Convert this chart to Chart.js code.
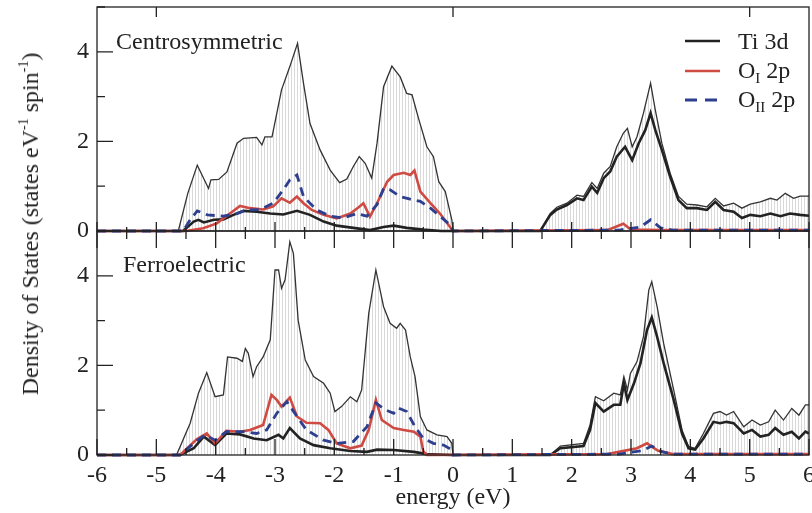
<!DOCTYPE html>
<html>
<head>
<meta charset="utf-8">
<script src="https://cdn.jsdelivr.net/npm/chart.js@4.4.0/dist/chart.umd.min.js"></script>
<style>
    body { margin: 0; background: #fff; width: 812px; height: 513px; overflow: hidden; position: relative; font-family: "Liberation Serif", "DejaVu Serif", serif; color: #222; }
    canvas { position: absolute; left: 0; top: 0; }
    .txt { position: absolute; font-size: 24px; line-height: 1; white-space: nowrap; }
    .txt sub { font-size: 15px; vertical-align: -5px; line-height: 0; }
    .txt sup { font-size: 14px; vertical-align: 10px; line-height: 0; }
    .ylab { left: 30px; top: 224px; transform: translate(-50%, -50%) rotate(-90deg); }
    .swatch { position: absolute; left: 685px; width: 35px; height: 4px; }
</style>
</head>
<body>
<canvas id="topChart" width="812" height="513"></canvas>
<canvas id="bottomChart" width="812" height="513"></canvas>

<div class="txt ylab">Density of States (states eV<sup>-1</sup> spin<sup>-1</sup>)</div>
<div class="txt" style="left:116px; top:29px;">Centrosymmetric</div>
<div class="txt" style="left:123px; top:252px;">Ferroelectric</div>

<svg class="swatch" style="top:39px"><line x1="0" y1="2" x2="35" y2="2" stroke="#222" stroke-width="2.6"/></svg>
<svg class="swatch" style="top:69px"><line x1="0" y1="2" x2="35" y2="2" stroke="#cf4a42" stroke-width="2.6"/></svg>
<svg class="swatch" style="top:98px"><line x1="0" y1="2" x2="35" y2="2" stroke="#2d3f8e" stroke-width="2.8" stroke-dasharray="12,8"/></svg>
<div class="txt" style="left:738px; top:29px;">Ti 3d</div>
<div class="txt" style="left:738px; top:58px;">O<sub>I</sub> 2p</div>
<div class="txt" style="left:738px; top:87px;">O<sub>II</sub> 2p</div>

<script>
// energy (eV), density pairs
const centroTotal = [[-6,0],[-4.63,0],[-4.47,0.84],[-4.31,1.47],[-4.12,0.95],[-4.08,1.14],[-3.95,1.15],[-3.81,1.32],[-3.64,1.96],[-3.53,2.07],[-3.31,2.09],[-3.22,1.92],[-3.17,2.1],[-3.05,2.1],[-2.89,3.15],[-2.75,3.67],[-2.62,4.19],[-2.52,3.3],[-2.41,2.4],[-2.24,1.81],[-2.07,1.36],[-1.91,1.08],[-1.79,1.16],[-1.68,1.44],[-1.58,1.66],[-1.48,1.51],[-1.37,1.18],[-1.28,1.96],[-1.17,3.22],[-1.03,3.68],[-0.89,3.44],[-0.78,3.07],[-0.69,3.04],[-0.58,2.51],[-0.44,1.88],[-0.33,1.66],[-0.24,1.1],[-0.13,0.88],[-0.02,0.25],[0,0],[1.47,0],[1.64,0.39],[1.75,0.53],[1.92,0.62],[2.09,0.8],[2.2,0.77],[2.34,1.08],[2.43,0.95],[2.54,1.29],[2.65,1.44],[2.76,1.88],[2.87,2.18],[2.94,2.29],[3.02,1.88],[3.1,2.1],[3.21,2.63],[3.33,3.3],[3.41,2.7],[3.52,1.96],[3.66,1.29],[3.8,0.77],[3.94,0.6],[4.11,0.58],[4.28,0.54],[4.42,0.73],[4.56,0.56],[4.73,0.62],[4.87,0.51],[5.01,0.6],[5.18,0.65],[5.35,0.73],[5.46,0.69],[5.6,0.84],[5.74,0.73],[5.85,0.78],[6,0.78]];
const centroTi = [[-6,0],[-4.55,0],[-4.37,0.21],[-4.29,0.25],[-4.2,0.19],[-4.03,0.25],[-3.87,0.26],[-3.7,0.36],[-3.53,0.45],[-3.31,0.43],[-3.08,0.39],[-2.86,0.37],[-2.63,0.45],[-2.41,0.36],[-2.18,0.21],[-1.96,0.12],[-1.68,0.07],[-1.4,0.02],[-1.17,0.09],[-1,0.12],[-0.78,0.07],[-0.5,0.03],[-0.2,0],[1.47,0],[1.64,0.36],[1.75,0.48],[1.92,0.58],[2.09,0.73],[2.2,0.69],[2.34,0.99],[2.43,0.85],[2.54,1.18],[2.65,1.33],[2.76,1.66],[2.9,1.88],[3.02,1.58],[3.13,1.96],[3.24,2.25],[3.33,2.63],[3.41,2.25],[3.52,1.81],[3.66,1.21],[3.8,0.69],[3.94,0.51],[4.11,0.51],[4.28,0.47],[4.42,0.65],[4.56,0.47],[4.73,0.43],[4.87,0.29],[5.01,0.36],[5.18,0.33],[5.35,0.39],[5.52,0.33],[5.68,0.39],[5.85,0.36],[6,0.34]];
const centroOI = [[-6,0],[-4.5,0],[-4.21,0.06],[-3.98,0.17],[-3.76,0.39],[-3.59,0.56],[-3.42,0.51],[-3.2,0.48],[-3.03,0.55],[-2.89,0.73],[-2.75,0.63],[-2.63,0.77],[-2.52,0.62],[-2.38,0.47],[-2.18,0.36],[-1.96,0.28],[-1.73,0.39],[-1.59,0.53],[-1.51,0.62],[-1.4,0.32],[-1.28,0.62],[-1.11,1.1],[-1,1.25],[-0.83,1.3],[-0.72,1.25],[-0.65,1.35],[-0.55,0.88],[-0.38,0.62],[-0.22,0.39],[0,0],[2.6,0.02],[2.87,0.16],[3,0.03],[3.5,0.02],[6,0.02]];
const centroOII = [[-6,0],[-4.55,0],[-4.43,0.25],[-4.31,0.45],[-4.14,0.36],[-3.87,0.33],[-3.64,0.39],[-3.48,0.47],[-3.25,0.48],[-3.03,0.62],[-2.86,0.92],[-2.75,1.14],[-2.63,1.25],[-2.52,0.77],[-2.3,0.47],[-2.07,0.33],[-1.85,0.29],[-1.62,0.39],[-1.45,0.33],[-1.28,0.59],[-1.17,0.95],[-1.06,0.92],[-0.89,0.77],[-0.72,0.71],[-0.55,0.66],[-0.38,0.51],[-0.22,0.33],[-0.05,0.14],[0,0],[2.8,0.02],[3.16,0.09],[3.33,0.25],[3.5,0.07],[3.7,0.02],[6,0.02]];

const ferroTotal = [[-6,0],[-4.66,0],[-4.43,0.71],[-4.29,1.38],[-4.15,1.84],[-4.01,1.3],[-3.87,1.34],[-3.8,2.19],[-3.64,2.16],[-3.55,2.09],[-3.5,2.38],[-3.45,2.27],[-3.37,1.75],[-3.31,1.97],[-3.2,2.19],[-3.08,2.57],[-3,4.13],[-2.94,4.13],[-2.89,3.72],[-2.83,3.91],[-2.75,4.76],[-2.69,4.5],[-2.61,3.01],[-2.49,2.12],[-2.35,1.75],[-2.18,1.6],[-2.07,1.38],[-1.99,0.97],[-1.88,1.08],[-1.73,1.3],[-1.62,1.19],[-1.54,1.45],[-1.42,3.16],[-1.3,4.13],[-1.17,3.31],[-1.06,2.94],[-0.95,2.83],[-0.89,2.94],[-0.8,2.79],[-0.72,2.19],[-0.64,1.75],[-0.55,0.86],[-0.44,0.56],[-0.27,0.45],[-0.1,0.41],[-0.02,0.26],[0,0],[1.64,0],[1.81,0.2],[2.2,0.26],[2.31,0.67],[2.4,1.3],[2.54,1.21],[2.71,1.38],[2.82,1.34],[2.88,1.75],[2.94,1.45],[2.99,1.82],[3.1,2.08],[3.21,2.64],[3.3,3.68],[3.35,3.87],[3.44,3.31],[3.55,2.49],[3.72,1.45],[3.86,0.56],[3.97,0.19],[4.08,0.15],[4.22,0.48],[4.39,0.93],[4.5,0.97],[4.61,0.89],[4.73,0.97],[4.9,0.63],[5.04,0.78],[5.18,0.67],[5.32,0.74],[5.43,1],[5.57,0.78],[5.71,1.04],[5.83,0.89],[5.94,1.12],[6,1.12]];
const ferroTi = [[-6,0],[-4.6,0],[-4.37,0.15],[-4.2,0.41],[-4.01,0.22],[-3.82,0.48],[-3.59,0.46],[-3.36,0.37],[-3.14,0.33],[-2.94,0.45],[-2.86,0.37],[-2.75,0.6],[-2.58,0.37],[-2.35,0.22],[-2.07,0.15],[-1.73,0.09],[-1.45,0.07],[-1.28,0.12],[-1,0.11],[-0.66,0.07],[-0.44,0.02],[0,0],[1.64,0],[1.81,0.15],[2.2,0.2],[2.31,0.56],[2.4,1.16],[2.54,0.97],[2.71,1.12],[2.82,1.12],[2.88,1.6],[2.94,1.23],[3.05,1.6],[3.16,2.05],[3.27,2.79],[3.35,3.07],[3.44,2.64],[3.55,2.05],[3.72,1.23],[3.86,0.48],[3.97,0.15],[4.08,0.12],[4.22,0.37],[4.39,0.74],[4.5,0.71],[4.61,0.74],[4.73,0.71],[4.9,0.48],[5.04,0.56],[5.18,0.41],[5.32,0.45],[5.43,0.6],[5.57,0.45],[5.71,0.52],[5.83,0.37],[5.94,0.52],[6,0.48]];
const ferroOI = [[-6,0],[-4.6,0],[-4.32,0.35],[-4.15,0.48],[-4.01,0.26],[-3.82,0.54],[-3.59,0.52],[-3.42,0.56],[-3.2,0.67],[-3.06,1.34],[-2.97,1.23],[-2.89,1.08],[-2.75,1.28],[-2.63,0.86],[-2.47,0.72],[-2.24,0.71],[-2.1,0.56],[-1.96,0.26],[-1.73,0.15],[-1.54,0.21],[-1.42,0.56],[-1.3,1.23],[-1.2,0.78],[-1,0.6],[-0.83,0.56],[-0.66,0.52],[-0.55,0.41],[-0.5,0.08],[-0.44,0],[2.6,0.02],[3.1,0.15],[3.27,0.26],[3.45,0.1],[3.7,0.02],[6,0.02]];
const ferroOII = [[-6,0],[-4.6,0],[-4.37,0.26],[-4.18,0.45],[-4.01,0.33],[-3.82,0.52],[-3.53,0.52],[-3.31,0.48],[-3.14,0.56],[-2.97,0.93],[-2.8,1.19],[-2.63,0.86],[-2.47,0.56],[-2.18,0.33],[-1.96,0.26],[-1.68,0.3],[-1.45,0.63],[-1.3,1.16],[-1.14,1.01],[-1,0.93],[-0.92,1.05],[-0.78,0.97],[-0.64,0.63],[-0.5,0.37],[-0.33,0.26],[-0.16,0.22],[-0.05,0.14],[0,0],[2.8,0.02],[3.2,0.1],[3.35,0.2],[3.5,0.08],[3.7,0.02],[6,0.02]];

const energyTicks = [-6, -5, -4, -3, -2, -1, 0, 1, 2, 3, 4, 5, 6];
const dosTicks = [0, 2, 4];

const FONT = { family: '"Liberation Serif", "DejaVu Serif", serif', size: 24 };

// vertical hatch used under the total DOS
function hatchPattern() {
    const c = document.createElement('canvas');
    c.width = 3; c.height = 4;
    const g = c.getContext('2d');
    g.fillStyle = 'rgba(160, 160, 160, 0.4)';
    g.fillRect(0, 0, 1, 4);
    return g.createPattern(c, 'repeat');
}

// frame + inward tick marks (Chart.js has no minor ticks)
const frameTicks = {
    id: 'frameTicks',
    afterDatasetsDraw(chart, args, o) {
        const { ctx, chartArea: a, scales: { x, y } } = chart;
        ctx.save();
        ctx.strokeStyle = '#222';
        ctx.lineWidth = 1.3;
        ctx.strokeRect(a.left, a.top, a.right - a.left, a.bottom - a.top);
        ctx.beginPath();
        for (let e = -6; e <= 6; e += 0.5) {
            const px = x.getPixelForValue(e);
            const major = Number.isInteger(e);
            const lb = major ? o.bottom[0] : o.bottom[1];
            ctx.moveTo(px, a.bottom); ctx.lineTo(px, a.bottom - lb);
            const lt = major ? o.top[0] : o.top[1];
            if (lt && (!o.topEvery || e % o.topEvery === 0)) {
                ctx.moveTo(px, a.top); ctx.lineTo(px, a.top + lt);
            }
        }
        for (let v = 0; v <= 5; v++) {
            const py = y.getPixelForValue(v);
            const len = v % 2 === 0 ? 16 : 8;
            ctx.moveTo(a.left, py); ctx.lineTo(a.left + len, py);
        }
        ctx.stroke();
        ctx.restore();
    }
};

function pts(arr) {
    return arr.map(p => ({ x: p[0], y: p[1] }));
}

function makeDatasets(total, ti, o1, o2) {
    return [
        { label: 'total', data: pts(total), borderColor: '#333', borderWidth: 1.3, fill: 'origin', backgroundColor: hatchPattern(), order: 4 },
        { label: 'Ti 3d', data: pts(ti), borderColor: '#222', borderWidth: 2.6, fill: false, order: 3 },
        { label: 'O_I 2p', data: pts(o1), borderColor: '#cf4a42', borderWidth: 2.6, fill: false, order: 2 },
        { label: 'O_II 2p', data: pts(o2), borderColor: '#2d3f8e', borderWidth: 2.8, borderDash: [9, 6], fill: false, order: 1 }
    ];
}

function makePanel(id, datasets, padding, showX, ticks) {
    const ctx = document.getElementById(id).getContext('2d');
    return new Chart(ctx, {
        type: 'line',
        data: { datasets: datasets },
        options: {
            responsive: false,
            animation: false,
            layout: { padding: padding },
            elements: { point: { radius: 0 }, line: { tension: 0 } },
            datasets: { line: { clip: { left: 0, right: 0, top: 0, bottom: 4 } } },
            plugins: {
                legend: { display: false },
                tooltip: { enabled: false },
                frameTicks: ticks
            },
            scales: {
                x: {
                    type: 'linear',
                    min: -6,
                    max: 6,
                    display: showX,
                    afterBuildTicks: s => { s.ticks = energyTicks.map(v => ({ value: v })); },
                    afterFit: s => { s.height = showX ? 58 : 0; s.paddingLeft = 0; s.paddingRight = 0; },
                    grid: { display: false, drawTicks: false },
                    border: { display: false },
                    ticks: { autoSkip: false, maxRotation: 0, padding: 6, color: '#222', font: FONT },
                    title: { display: true, text: 'energy (eV)', color: '#222', font: FONT, padding: { top: 0, bottom: 1 } }
                },
                y: {
                    min: 0,
                    max: 5,
                    afterBuildTicks: s => { s.ticks = dosTicks.map(v => ({ value: v })); },
                    afterFit: s => { s.width = 97; s.paddingTop = 0; s.paddingBottom = 0; },
                    grid: { display: false, drawTicks: false },
                    border: { display: false },
                    ticks: { padding: 8, color: '#222', font: FONT }
                }
            }
        },
        plugins: [frameTicks]
    });
}

makePanel('topChart', makeDatasets(centroTotal, centroTi, centroOI, centroOII),
    { left: 0, right: 3, top: 7, bottom: 282 }, false,
    { bottom: [9, 4], top: [10, 0], topEvery: 5 });

makePanel('bottomChart', makeDatasets(ferroTotal, ferroTi, ferroOI, ferroOII),
    { left: 0, right: 3, top: 231, bottom: 0 }, true,
    { bottom: [16, 7], top: [17, 8] });
</script>
</body>
</html>
